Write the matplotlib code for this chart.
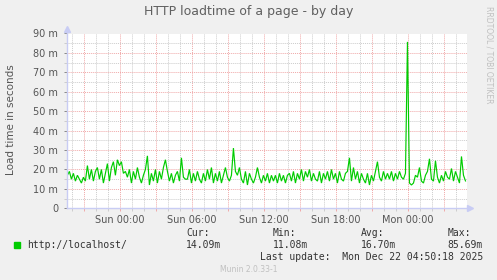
import numpy as np
import matplotlib
matplotlib.use("Agg")
import matplotlib.pyplot as plt
from matplotlib.ticker import MultipleLocator, FixedLocator

W, H = 497, 280

# load time in ms, one sample every 10 minutes starting Sat 19:37:30
load_ms = [
    17, 19, 15, 18, 14, 17, 15, 13, 16, 14,
    22, 15, 20, 14, 19, 21, 15, 20, 13, 18,
    23, 14, 21, 24, 17, 25, 22, 24, 18, 19,
    16, 20, 13, 19, 15, 21, 16, 13, 17, 20,
    27, 12, 18, 14, 20, 13, 19, 15, 21, 25,
    19, 14, 18, 13, 17, 19, 14, 26, 16, 15,
    15, 20, 13, 18, 14, 19, 15, 13, 18, 14,
    20, 15, 21, 13, 18, 14, 19, 13, 17, 21,
    16, 14, 17, 31, 19, 17, 21, 15, 13, 19,
    12, 18, 15, 13, 16, 21, 16, 13, 17, 14,
    18, 13, 17, 14, 17, 13, 18, 14, 17, 13,
    17, 18, 14, 19, 13, 18, 15, 20, 14, 19,
    16, 20, 14, 18, 15, 14, 19, 13, 18, 15,
    19, 14, 20, 15, 18, 13, 19, 15, 14, 18,
    19, 26, 14, 21, 15, 19, 13, 18, 15, 13,
    18, 12, 17, 14, 19, 24, 16, 14, 19, 15,
    18, 15, 19, 14, 18, 15, 19, 16, 15, 18,
    85.69, 13, 12, 13, 17, 16, 21, 14, 13, 17,
    19, 25.5, 15, 14, 24.5, 16, 13, 17, 14, 19,
    16, 15, 20.5, 14, 19, 16, 13, 26.7, 17, 14.09,
]
start_hour = -4.375   # hours relative to Sun 00:00
step_hour = 1 / 6

tick_hours = [0, 6, 12, 18, 24]
tick_labels = ["Sun 00:00", "Sun 06:00", "Sun 12:00", "Sun 18:00", "Mon 00:00"]
y_ticks = [0, 10, 20, 30, 40, 50, 60, 70, 80, 90]
y_labels = ["0"] + [f"{v} m" for v in y_ticks[1:]]

series_name = "http://localhost/"
cur, vmin, avg, vmax = "14.09m", "11.08m", "16.70m", "85.69m"
last_update = "Last update:  Mon Dec 22 04:50:18 2025"

BG = "#f0f0f0"
TXT = "#555555"
AXIS = "#c8ccf4"
MINOR = "#cccccc"
MAJOR = "#f0a8a8"
LINE = "#00cc00"
MONO = "DejaVu Sans Mono"


def px(x, y):
    return x / W, 1 - y / H


fig = plt.figure(figsize=(W / 100, H / 100), dpi=100, facecolor=BG)
left, right, top, bottom = 66.5, 467.5, 33.5, 208.3
ax = fig.add_axes([left / W, 1 - bottom / H, (right - left) / W, (bottom - top) / H])
ax.set_facecolor("white")

hours = start_hour + np.arange(len(load_ms)) * step_hour
ax.plot(hours, load_ms, color=LINE, lw=0.85, solid_joinstyle="miter")

ax.set_xlim(-4.45, 28.96)
ax.set_ylim(0, 90)

# grid: hourly / 5 m gray, 3-hourly / 10 m red
ax.xaxis.set_minor_locator(MultipleLocator(1))
ax.xaxis.set_major_locator(MultipleLocator(3))
ax.yaxis.set_minor_locator(MultipleLocator(5))
ax.yaxis.set_major_locator(FixedLocator(y_ticks))
ax.grid(which="minor", color=MINOR, ls=(0, (1, 1)), lw=0.7)
ax.grid(which="major", color=MAJOR, ls=(0, (1, 1)), lw=0.7)
ax.set_axisbelow(True)

ax.set_yticklabels(y_labels)
ax.set_xticklabels([])
for h, lab in zip(tick_hours, tick_labels):
    ax.text(h, -3.3, lab, ha="center", va="top", fontsize=7, color=TXT)

ax.tick_params(which="both", length=2, width=0.7, color=MINOR, labelsize=7, labelcolor=TXT, pad=4)
ax.tick_params(which="major", color=MAJOR)
ax.tick_params(axis="y", which="major", color="#888888")

for s in ("top", "right"):
    ax.spines[s].set_visible(False)
for s in ("left", "bottom"):
    ax.spines[s].set_color(AXIS)
    ax.spines[s].set_linewidth(1.0)
ax.spines["bottom"].set_bounds(-4.45, 29.1)
ax.spines["left"].set_bounds(0, 92)
ax.spines["bottom"].set_zorder(5)
ax.plot([29.2], [0], marker=">", color=AXIS, ms=4, clip_on=False, zorder=6)
ax.plot([-4.45], [92.5], marker="^", color=AXIS, ms=4, clip_on=False, zorder=6)

fig.text(*px(249, 12), "HTTP loadtime of a page - by day", ha="center", va="center",
         fontsize=9, color="#606060")
fig.text(*px(11, 120), "Load time in seconds", rotation=90, ha="center", va="center",
         fontsize=7.5, color=TXT)
fig.text(*px(489, 6), "RRDTOOL / TOBI OETIKER", rotation=270, ha="center", va="top",
         fontsize=5.5, color="#c0c0c0")

# legend block
fig.patches.append(plt.Rectangle(px(14, 248), 6 / W, 6 / H, transform=fig.transFigure,
                                 color=LINE, figure=fig))
fig.text(*px(27, 245), series_name, ha="left", va="center", fontsize=7, family=MONO, color="#333333")
for x0, head, val in [(186, "Cur:", cur), (273, "Min:", vmin), (361, "Avg:", avg), (447.7, "Max:", vmax)]:
    fig.text(*px(x0, 233), head, ha="left", va="center", fontsize=7, family=MONO, color="#333333")
    fig.text(*px(x0, 245), val, ha="left", va="center", fontsize=7, family=MONO, color="#333333")
fig.text(*px(483, 257.5), last_update, ha="right", va="center", fontsize=7, family=MONO, color="#333333")
fig.text(*px(249, 269), "Munin 2.0.33-1", ha="center", va="center", fontsize=5.5, color="#c0c0c0")

fig.savefig("out.png", dpi=100, facecolor=BG)
